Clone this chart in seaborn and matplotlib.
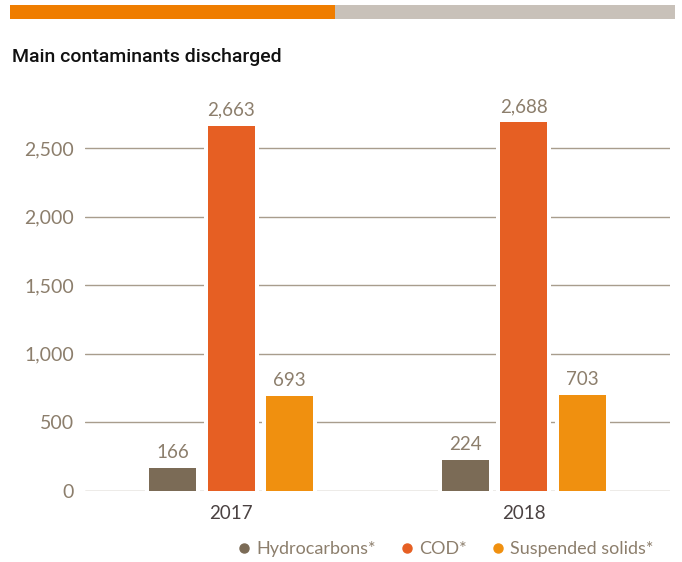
import matplotlib
matplotlib.use("Agg")
import matplotlib.pyplot as plt
from matplotlib.lines import Line2D
from matplotlib.patches import Rectangle
import seaborn as sns
import pandas as pd

years = ["2017", "2018"]
contaminants = ["Hydrocarbons*", "COD*", "Suspended solids*"]
hydrocarbons = [166, 224]
cod = [2663, 2688]
suspended = [693, 703]
yticks = [0, 500, 1000, 1500, 2000, 2500]

colors = ["#7b6b56", "#e65f23", "#f0900f"]
text_col = "#8c7e6c"
grid_col = "#a89d8d"

rows = []
for name, vals in zip(contaminants, [hydrocarbons, cod, suspended]):
    for y, v in zip(years, vals):
        rows.append({"year": y, "contaminant": name, "value": v})
df = pd.DataFrame(rows)

sns.set_style("white")
plt.rcParams["font.family"] = ["Lato", "DejaVu Sans"]

fig = plt.figure(figsize=(6.82, 5.62), dpi=100)
ax = fig.add_axes([85 / 682, 1 - 491 / 562, 585 / 682, (491 - 100) / 562])

# gridlines behind the bars; bars get white edges that cut through them
for t in yticks:
    ax.axhline(t, color=grid_col, lw=1.0, zorder=0)

sns.barplot(data=df, x="year", y="value", hue="contaminant", order=years,
            hue_order=contaminants, palette=colors, width=0.6, gap=0.2,
            edgecolor="white", linewidth=0, saturation=1, legend=False,
            errorbar=None, ax=ax, zorder=2)

# white halo around each bar to break the gridlines
for p in list(ax.patches):
    x0, w, h = p.get_x(), p.get_width(), p.get_height()
    pad = 0.014
    ax.add_patch(Rectangle((x0 - pad, 0), w + 2 * pad, h, facecolor="white",
                           edgecolor="none", zorder=1))

for cont in ax.containers:
    ax.bar_label(cont, labels=[f"{v:,.0f}" for v in cont.datavalues],
                 padding=5, color=text_col, fontsize=13.5)

ax.set_xlim(-0.5, 1.5)
ax.set_ylim(0, 2850)
ax.set_yticks(yticks)
ax.set_yticklabels([f"{t:,}" for t in yticks], color=text_col, fontsize=14)
ax.tick_params(axis="y", length=0, pad=8)
ax.tick_params(axis="x", length=0, pad=10, labelsize=13.5, labelcolor="#4a4242")
ax.set_xlabel("")
ax.set_ylabel("")
for s in ax.spines.values():
    s.set_visible(False)

# header band and title
fig.patches.append(Rectangle((10 / 682, 1 - 19 / 562), 325 / 682, 14 / 562,
                             transform=fig.transFigure, facecolor="#ef7d00",
                             edgecolor="none"))
fig.patches.append(Rectangle((335 / 682, 1 - 19 / 562), 340 / 682, 14 / 562,
                             transform=fig.transFigure, facecolor="#c8c1b9",
                             edgecolor="none"))
fig.text(12 / 682, 1 - 57 / 562, "Main contaminants discharged",
         fontsize=14, fontweight="medium", color="#111111", va="center",
         family=["Roboto", "DejaVu Sans"])

handles = [Line2D([], [], marker="o", ls="none", markersize=6.5,
                  markerfacecolor=c, markeredgecolor=c) for c in colors]
fig.legend(handles, contaminants, loc="center right",
           bbox_to_anchor=(670 / 682, 1 - 549 / 562), ncol=3, frameon=False,
           handletextpad=0.2, columnspacing=1.2, labelcolor=text_col,
           fontsize=13, handlelength=1.0)

fig.savefig("out.png", dpi=100)
